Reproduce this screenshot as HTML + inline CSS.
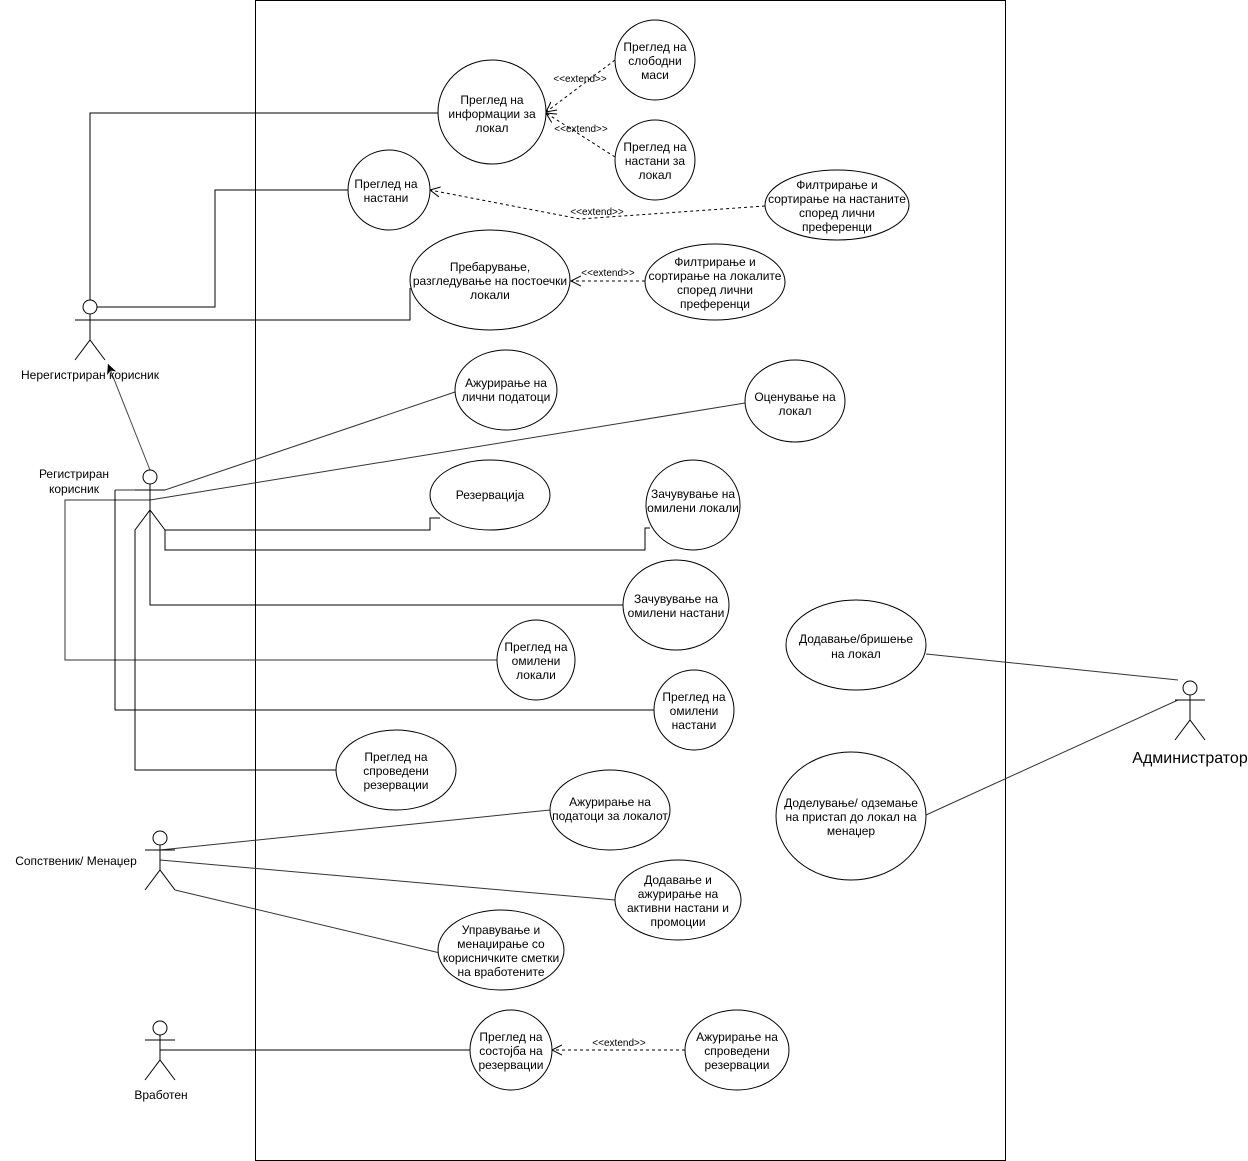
<!DOCTYPE html>
<html><head><meta charset="utf-8"><style>
html,body{margin:0;padding:0;background:#fff;}
svg{display:block;}
text{font-family:"Liberation Sans",sans-serif;font-size:12px;fill:#000;}
.s{font-size:10px;}
</style></head><body>
<svg width="1248" height="1161" viewBox="0 0 1248 1161" xmlns="http://www.w3.org/2000/svg">
<defs>
<marker id="open" markerWidth="12" markerHeight="12" refX="10" refY="6" orient="auto" markerUnits="userSpaceOnUse">
<path d="M0,1 L10,6 L0,11" fill="none" stroke="#000" stroke-width="1"/></marker>
<marker id="tri" markerWidth="12" markerHeight="12" refX="10" refY="5" orient="auto" markerUnits="userSpaceOnUse">
<path d="M0,0 L10,5 L0,10 L3,5 Z" fill="#000"/></marker>
</defs>
<rect x="255.5" y="0.5" width="750" height="1160" fill="none" stroke="#000"/>
<g fill="none" stroke="#000" stroke-width="1">
<!-- unregistered -->
<polyline points="90,300 90,113 438,113"/>
<polyline points="97,307 215,307 215,190 348,190"/>
<polyline points="75,320 410,320 410,288"/>
<!-- registered -->
<line x1="150" y1="470" x2="108" y2="364" stroke="#444" marker-end="url(#tri)"/>
<polyline points="115,490 165,490 455,392" stroke="#333"/>
<polyline points="497,660 65,660 65,500 150,500 745,403" stroke="#333"/>
<polyline points="654,710 115,710 115,490"/>
<polyline points="165,530 430,530 430,518 440,518"/>
<polyline points="165,530 165,550 645,550 645,528 650,528"/>
<polyline points="150,510 150,605 623,605"/>
<polyline points="135,530 135,770 336,770"/>
<!-- owner -->
<line x1="160" y1="850" x2="550" y2="810" stroke="#333"/>
<line x1="160" y1="860" x2="615" y2="900" stroke="#333"/>
<line x1="175" y1="890" x2="440" y2="953" stroke="#333"/>
<!-- employee -->
<line x1="160" y1="1050" x2="470" y2="1050"/>
<!-- admin -->
<line x1="926" y1="654" x2="1178" y2="680" stroke="#333"/>
<line x1="926" y1="815" x2="1178" y2="700" stroke="#333"/>
<!-- extends -->
<g stroke-dasharray="3,3">
<line x1="615" y1="60" x2="546" y2="112" marker-end="url(#open)"/>
<line x1="615" y1="157" x2="546" y2="113" marker-end="url(#open)"/>
<polyline points="765,206 580,219 430,190" marker-end="url(#open)"/>
<line x1="645" y1="281" x2="571" y2="281" marker-end="url(#open)"/>
<line x1="685" y1="1050" x2="552" y2="1050" marker-end="url(#open)"/>
</g>
<!-- actors -->
<g stroke="#000">
<circle cx="90" cy="307" r="7" fill="#fff"/><line x1="90" y1="314" x2="90" y2="340"/><line x1="75" y1="320" x2="105" y2="320"/><polyline points="75,360 90,340 105,360"/>
<circle cx="150" cy="477" r="7" fill="#fff"/><line x1="150" y1="484" x2="150" y2="510"/><line x1="135" y1="490" x2="165" y2="490"/><polyline points="135,530 150,510 165,530"/>
<circle cx="160" cy="838" r="7" fill="#fff"/><line x1="160" y1="845" x2="160" y2="870"/><line x1="145" y1="850" x2="175" y2="850"/><polyline points="145,890 160,870 175,890"/>
<circle cx="160" cy="1028" r="7" fill="#fff"/><line x1="160" y1="1035" x2="160" y2="1060"/><line x1="145" y1="1040" x2="175" y2="1040"/><polyline points="145,1080 160,1060 175,1080"/>
<circle cx="1190" cy="688" r="7" fill="#fff"/><line x1="1190" y1="695" x2="1190" y2="720"/><line x1="1175" y1="700" x2="1205" y2="700"/><polyline points="1175,740 1190,720 1205,740"/>
</g>
<!-- ellipses -->
<g fill="#fff">
<ellipse cx="492" cy="112" rx="54" ry="52"/>
<ellipse cx="655" cy="60" rx="40" ry="40"/>
<ellipse cx="655" cy="160" rx="40" ry="40"/>
<ellipse cx="389" cy="190" rx="41" ry="40"/>
<ellipse cx="837" cy="205" rx="72" ry="35"/>
<ellipse cx="490" cy="280" rx="80" ry="50"/>
<ellipse cx="715" cy="282" rx="70" ry="38"/>
<ellipse cx="506" cy="390" rx="51" ry="40"/>
<ellipse cx="795" cy="401" rx="50" ry="41"/>
<ellipse cx="490" cy="495" rx="60" ry="35"/>
<ellipse cx="693" cy="505" rx="47" ry="45"/>
<ellipse cx="676" cy="605" rx="53" ry="45"/>
<ellipse cx="856" cy="645" rx="70" ry="45"/>
<ellipse cx="536" cy="660" rx="39" ry="40"/>
<ellipse cx="694" cy="710" rx="40" ry="40"/>
<ellipse cx="396" cy="770" rx="60" ry="40"/>
<ellipse cx="851" cy="816" rx="75" ry="64"/>
<ellipse cx="610" cy="810" rx="60" ry="40"/>
<ellipse cx="678" cy="900" rx="63" ry="40"/>
<ellipse cx="501" cy="950" rx="63" ry="40"/>
<ellipse cx="511" cy="1050" rx="41" ry="40"/>
<ellipse cx="737" cy="1050" rx="52" ry="40"/>
</g>
</g>
<g text-anchor="middle">
<text x="492" y="104">Преглед на</text><text x="492" y="118">информации за</text><text x="492" y="132">локал</text>
<text x="655" y="51">Преглед на</text><text x="655" y="65">слободни</text><text x="655" y="79">маси</text>
<text x="655" y="151">Преглед на</text><text x="655" y="165">настани за</text><text x="655" y="179">локал</text>
<text x="386" y="188">Преглед на</text><text x="386" y="202">настани</text>
<text x="837" y="189">Филтрирање и</text><text x="837" y="203">сортирање на настаните</text><text x="837" y="217">според лични</text><text x="837" y="231">преференци</text>
<text x="490" y="271">Пребарување,</text><text x="490" y="285">разгледување на постоечки</text><text x="490" y="299">локали</text>
<text x="715" y="266">Филтрирање и</text><text x="715" y="280">сортирање на локалите</text><text x="715" y="294">според лични</text><text x="715" y="308">преференци</text>
<text x="506" y="387">Ажурирање на</text><text x="506" y="401">лични податоци</text>
<text x="795" y="401">Оценување на</text><text x="795" y="415">локал</text>
<text x="490" y="499">Резервација</text>
<text x="693" y="498">Зачувување на</text><text x="693" y="512">омилени локали</text>
<text x="676" y="603">Зачувување на</text><text x="676" y="617">омилени настани</text>
<text x="856" y="643">Додавање/бришење</text><text x="856" y="658">на локал</text>
<text x="536" y="651">Преглед на</text><text x="536" y="665">омилени</text><text x="536" y="679">локали</text>
<text x="694" y="701">Преглед на</text><text x="694" y="715">омилени</text><text x="694" y="729">настани</text>
<text x="396" y="761">Преглед на</text><text x="396" y="775">спроведени</text><text x="396" y="789">резервации</text>
<text x="851" y="807">Доделување/ одземање</text><text x="851" y="821">на пристап до локал на</text><text x="851" y="835">менаџер</text>
<text x="610" y="806">Ажурирање на</text><text x="610" y="820">податоци за локалот</text>
<text x="678" y="884">Додавање и</text><text x="678" y="898">ажурирање на</text><text x="678" y="912">активни настани и</text><text x="678" y="926">промоции</text>
<text x="501" y="934">Управување и</text><text x="501" y="948">менаџирање со</text><text x="501" y="962">корисничките сметки</text><text x="501" y="976">на вработените</text>
<text x="511" y="1041">Преглед на</text><text x="511" y="1055">состојба на</text><text x="511" y="1069">резервации</text>
<text x="737" y="1041">Ажурирање на</text><text x="737" y="1055">спроведени</text><text x="737" y="1069">резервации</text>
<text x="90" y="379">Нерегистриран корисник</text>
<text x="74" y="478">Регистриран</text><text x="74" y="493">корисник</text>
<text x="76" y="865">Сопственик/ Менаџер</text>
<text x="161" y="1099">Вработен</text>
<text x="1190" y="763" style="font-size:16px">Администратор</text>
<text class="s" x="580" y="82">&lt;&lt;extend&gt;&gt;</text>
<text class="s" x="581" y="132">&lt;&lt;extend&gt;&gt;</text>
<text class="s" x="597" y="215">&lt;&lt;extend&gt;&gt;</text>
<text class="s" x="608" y="276">&lt;&lt;extend&gt;&gt;</text>
<text class="s" x="619" y="1046">&lt;&lt;extend&gt;&gt;</text>
</g>
</svg>
</body></html>
